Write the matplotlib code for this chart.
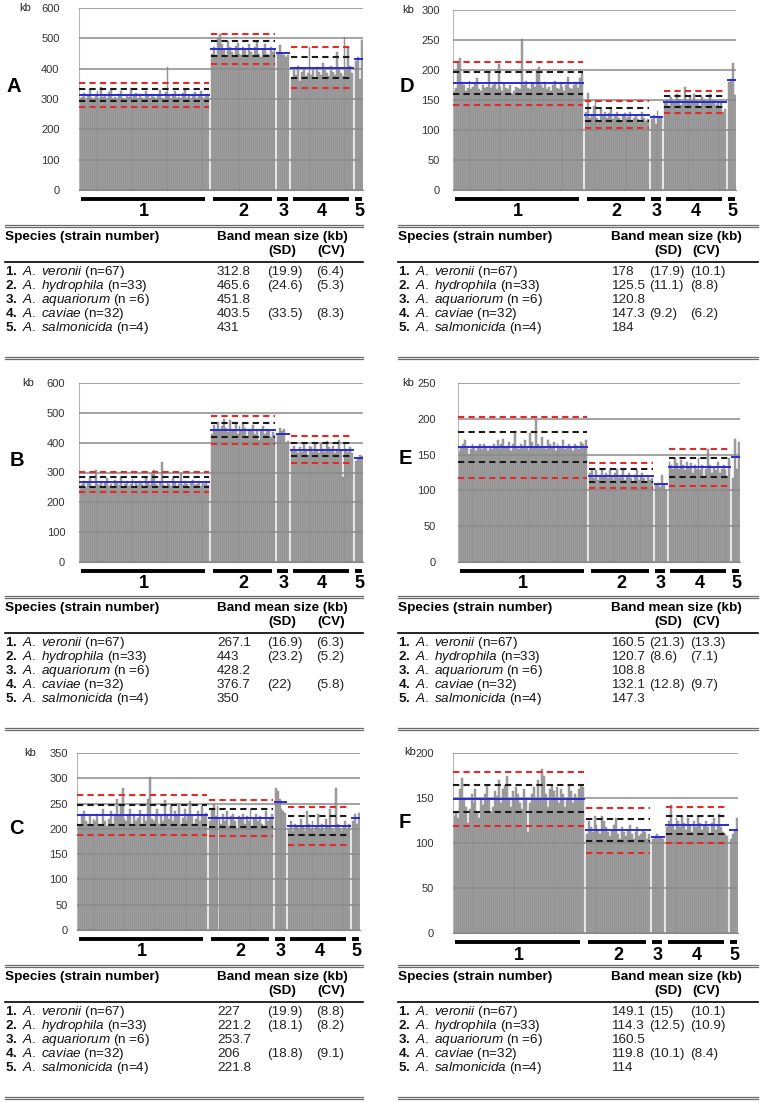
import numpy as np
import matplotlib.pyplot as plt
from matplotlib.lines import Line2D
from matplotlib.transforms import blended_transform_factory

plt.rcParams['font.family'] = ['Liberation Sans', 'DejaVu Sans']
plt.rcParams['mathtext.fontset'] = 'custom'
plt.rcParams['mathtext.rm'] = 'Liberation Sans'
plt.rcParams['mathtext.it'] = 'Liberation Sans:italic'
plt.rcParams['mathtext.bf'] = 'Liberation Sans:bold'

group_names = ['1', '2', '3', '4', '5']
species = ['A. veronii', 'A. hydrophila', 'A. aquariorum', 'A. caviae', 'A. salmonicida']
strains = ['(n=67)', '(n=33)', '(n =6)', '(n=32)', '(n=4)']

# ---- panel A : band sizes (kb) per strain
A1 = [300, 305, 320, 298, 310, 332, 302, 296, 318, 325,
      300, 340, 306, 312, 298, 322, 330, 300, 308, 296,
      315, 328, 302, 300, 312, 305, 336, 298, 310, 320,
      300, 316, 304, 298, 326, 310, 300, 318, 306, 300,
      312, 330, 304, 298, 322, 405, 310, 300, 316, 326,
      302, 308, 300, 320, 334, 304, 310, 298, 316, 322,
      300, 312, 328, 306, 300, 314, 318]
A2 = [450, 470, 445, 500, 515, 480, 460, 445, 490, 470,
      455, 440, 475, 485, 450, 445, 470, 460, 440, 480,
      455, 445, 470, 490, 450, 440, 465, 480, 450, 445,
      470, 455, 460]
A3 = [450, 478, 452, 446, 440, 445]
A4 = [370, 395, 380, 410, 360, 390, 400, 375, 385, 470,
      380, 395, 370, 405, 390, 380, 420, 395, 385, 375,
      410, 390, 380, 455, 400, 385, 375, 505, 395, 470,
      410, 385]
A5 = [425, 440, 365, 495]
mean_A = [312.8, 465.6, 451.8, 403.5, 431]
sd_A = [19.9, 24.6, None, 33.5, None]
cv_A = [6.4, 5.3, None, 8.3, None]

# ---- panel B
B1 = [255, 260, 270, 250, 265, 280, 255, 248, 310, 262,
      258, 270, 252, 265, 280, 255, 262, 250, 275, 268,
      258, 285, 252, 260, 270, 256, 262, 278, 250, 265,
      258, 270, 262, 252, 280, 265, 258, 300, 310, 262,
      255, 268, 335, 258, 250, 272, 262, 256, 280, 265,
      252, 260, 298, 258, 270, 262, 250, 268, 275, 258,
      262, 270, 255, 265, 260, 272, 258]
B2 = [430, 460, 445, 470, 440, 455, 480, 450, 435, 475,
      445, 440, 470, 430, 455, 440, 465, 450, 420, 445,
      440, 460, 430, 445, 410, 440, 455, 430, 445, 440,
      420, 435, 425]
B3 = [428, 450, 440, 445, 400, 405]
B4 = [380, 390, 375, 365, 385, 370, 395, 380, 360, 390,
      385, 370, 400, 375, 365, 395, 380, 370, 405, 385,
      375, 390, 365, 380, 410, 375, 285, 395, 380, 370,
      385, 365]
B5 = [340, 345, 360, 355]
mean_B = [267.1, 443, 428.2, 376.7, 350]
sd_B = [16.9, 23.2, None, 22, None]
cv_B = [6.3, 5.2, None, 5.8, None]

# ---- panel C
C1 = [210, 205, 230, 235, 215, 210, 225, 205, 220, 215,
      230, 210, 208, 240, 215, 205, 220, 235, 210, 230,
      260, 225, 250, 280, 220, 215, 225, 240, 210, 230,
      215, 222, 238, 210, 225, 215, 260, 302, 220, 215,
      230, 240, 210, 225, 215, 258, 230, 220, 245, 215,
      235, 228, 250, 210, 222, 240, 215, 230, 255, 225,
      210, 220, 235, 215, 245, 228, 232]
C2 = [215, 240, 250, 225, 245, 220, 210, 230, 215, 235,
      205, 225, 230, 215, 200, 225, 220, 230, 210, 225,
      215, 240, 205, 220, 230, 215, 225, 210, 205, 235,
      215, 220, 230]
C3 = [280, 275, 260, 240, 235, 232]
C4 = [200, 215, 195, 210, 205, 198, 220, 205, 195, 235,
      210, 200, 215, 195, 205, 230, 200, 210, 195, 220,
      205, 240, 200, 195, 280, 210, 200, 195, 205, 215,
      200, 210]
C5 = [215, 230, 210, 232]
mean_C = [227, 221.2, 253.7, 206, 221.8]
sd_C = [19.9, 18.1, None, 18.8, None]
cv_C = [8.8, 8.2, None, 9.1, None]

# ---- panel D
D1 = [165, 170, 215, 220, 180, 175, 165, 170, 182, 168,
      172, 178, 186, 168, 165, 175, 170, 172, 198, 170,
      175, 180, 168, 210, 172, 165, 178, 170, 168, 175,
      160, 165, 172, 170, 168, 252, 175, 182, 170, 168,
      180, 178, 172, 200, 205, 175, 170, 180, 168, 172,
      165, 175, 182, 170, 168, 180, 172, 165, 175, 188,
      170, 168, 175, 180, 170, 186, 195]
D2 = [130, 162, 120, 125, 140, 150, 120, 115, 135, 125,
      130, 120, 128, 135, 118, 125, 130, 120, 115, 125,
      128, 118, 122, 130, 115, 120, 125, 118, 112, 130,
      120, 115, 118]
D3 = [118, 125, 110, 132, 120, 120]
D4 = [145, 150, 140, 155, 148, 145, 160, 150, 142, 148,
      172, 150, 145, 155, 148, 160, 150, 145, 140, 155,
      150, 145, 148, 160, 145, 150, 142, 148, 140, 145,
      130, 135]
D5 = [180, 185, 212, 159]
mean_D = [178, 125.5, 120.8, 147.3, 184]
sd_D = [17.9, 11.1, None, 9.2, None]
cv_D = [10.1, 8.8, None, 6.2, None]

# ---- panel E
E1 = [155, 160, 165, 170, 160, 150, 158, 165, 160, 155,
      162, 165, 158, 165, 160, 155, 162, 158, 165, 160,
      170, 158, 165, 172, 160, 162, 168, 155, 165, 183,
      160, 158, 165, 162, 170, 160, 155, 180, 168, 160,
      198, 165, 160, 175, 162, 158, 170, 165, 160, 168,
      155, 165, 162, 160, 170, 158, 162, 165, 160, 155,
      165, 162, 158, 168, 165, 160, 170]
E2 = [125, 130, 118, 128, 115, 122, 130, 120, 125, 118,
      128, 120, 115, 125, 130, 118, 122, 128, 115, 120,
      125, 118, 110, 122, 128, 115, 120, 125, 118, 112,
      120, 115, 118]
E3 = [108, 110, 105, 122, 108, 100]
E4 = [140, 135, 130, 145, 138, 130, 142, 135, 128, 140,
      132, 138, 125, 135, 130, 145, 128, 135, 120, 130,
      158, 135, 125, 132, 128, 140, 125, 130, 135, 128,
      120, 145]
E5 = [118, 172, 130, 168]
mean_E = [160.5, 120.7, 108.8, 132.1, 147.3]
sd_E = [21.3, 8.6, None, 12.8, None]
cv_E = [13.3, 7.1, None, 9.7, None]

# ---- panel F
F1 = [130, 135, 128, 160, 172, 150, 140, 122, 138, 155,
      145, 160, 135, 128, 150, 142, 155, 165, 148, 135,
      140, 158, 152, 170, 145, 160, 165, 175, 150, 140,
      158, 148, 162, 155, 145, 138, 160, 150, 112, 145,
      155, 162, 148, 170, 150, 182, 175, 155, 140, 160,
      165, 158, 150, 162, 145, 160, 155, 140, 150, 165,
      158, 145, 155, 150, 160, 165, 162]
F2 = [110, 125, 118, 112, 130, 120, 115, 110, 130, 125,
      118, 112, 108, 115, 120, 128, 110, 105, 118, 112,
      108, 115, 120, 110, 105, 112, 118, 108, 110, 115,
      112, 105, 110]
F3 = [105, 108, 110, 107, 106, 104]
F4 = [118, 125, 142, 120, 115, 128, 125, 118, 130, 122,
      115, 128, 120, 112, 125, 118, 130, 122, 115, 120,
      125, 118, 110, 122, 128, 115, 120, 132, 118, 112,
      110, 108]
F5 = [105, 110, 113, 128]
mean_F = [149.1, 114.3, 160.5, 119.8, 114]
sd_F = [15, 12.5, None, 10.1, None]
cv_F = [10.1, 10.9, None, 8.4, None]

W, H = 765, 1103
fig = plt.figure(figsize=(W / 100, H / 100), dpi=100)
TFS = 9.7  # table font size


def fx(x):
    return x / W


def fy(y):
    return 1 - y / H


def hline(x0, x1, y, **kw):
    fig.add_artist(Line2D([fx(x0), fx(x1)], [fy(y), fy(y)], **kw))


def chart(letter, groups, means, sds, ymax, step, box, pad, kb_xy, let_xy):
    l, r, t, b = box
    ax = fig.add_axes([fx(l), fy(b), (r - l) / W, (b - t) / H])
    starts = []
    pos = 0
    for g in groups:
        starts.append(pos)
        pos += len(g) + 1
    for g, s in zip(groups, starts):
        ax.bar(np.arange(s, s + len(g)), g, width=1.0, color='#a2a2a2',
               edgecolor='#858585', linewidth=0.3, zorder=1)
    ax.set_xlim(-0.5, pos - 1.5)
    ax.set_ylim(0, ymax)
    ax.set_yticks(np.arange(0, ymax + 1, step))
    ax.set_xticks([])
    ax.grid(axis='y', color='#8a8a8a', lw=1.1)
    ax.set_axisbelow(False)
    for sp in ('top', 'right'):
        ax.spines[sp].set_visible(False)
    ax.spines['left'].set_color('#b8b8b8')
    ax.spines['bottom'].set_color('#8a8a8a')
    ax.tick_params(axis='y', length=0, pad=pad, labelsize=8, labelcolor='#333333')

    hpx = b - t
    trans = blended_transform_factory(ax.transData, ax.transAxes)
    for i, (g, s) in enumerate(zip(groups, starts)):
        n = len(g)
        x0, x1 = s - 0.5, s + n - 0.5
        if sds[i] is None:
            m = np.mean(g)
        else:
            m = means[i]
            for k, c in ((1, '#1a1a1a'), (2, '#e22a2a')):
                for sgn in (-1, 1):
                    ax.plot([x0, x1], [m + sgn * k * sds[i]] * 2, color=c, lw=1.5,
                            ls=(0, (3, 2)), zorder=3)
        ax.plot([x0, x1], [m, m], color='#2a2ad8', lw=1.4, zorder=4)
        if n > 10:
            u0, u1 = s + 0.5, s + n - 2.5
        else:
            u0, u1 = s - 0.5, s + n - 1.2
        ax.plot([u0, u1], [-9 / hpx] * 2, transform=trans, clip_on=False,
                color='black', lw=2.8, solid_capstyle='butt')
        ax.text(s + (n - 1) / 2, -22 / hpx, group_names[i], transform=trans,
                ha='center', va='center', fontsize=13, fontweight='bold')
    fig.text(fx(kb_xy[0]), fy(kb_xy[1]), 'kb', ha='center', va='center',
             fontsize=8, color='#222222')
    fig.text(fx(let_xy[0]), fy(let_xy[1]), letter, ha='center', va='center',
             fontsize=14.5, fontweight='bold')


def table(means, sds, cvs, cols, yoff):
    xt, xv, xsd, xcv, xsdh, xcvh, xr = cols
    for y in (225, 357):
        hline(xt, xr, yoff + y, color='#6a6a6a', lw=0.9)
        hline(xt, xr, yoff + y + 2, color='#6a6a6a', lw=0.9)
    hline(xt, xr, yoff + 262, color='black', lw=1.2)
    fig.text(fx(xt), fy(yoff + 237), 'Species (strain number)', fontsize=TFS,
             fontweight='bold', va='center')
    fig.text(fx(xv), fy(yoff + 237), 'Band mean size (kb)', fontsize=TFS,
             fontweight='bold', va='center')
    fig.text(fx(xsdh), fy(yoff + 251), '(SD)', fontsize=TFS, fontweight='bold', va='center')
    fig.text(fx(xcvh), fy(yoff + 251), '(CV)', fontsize=TFS, fontweight='bold', va='center')
    for i, y in enumerate([272, 286, 300, 314, 328]):
        name = species[i].replace(' ', r'\ ')
        lab = r'$\mathbf{%d.}$ $\mathit{%s}$ %s' % (i + 1, name, strains[i])
        fig.text(fx(xt), fy(yoff + y), lab, fontsize=TFS, va='center', color='#111111')
        fig.text(fx(xv), fy(yoff + y), f'{means[i]:g}', fontsize=TFS, va='center',
                 color='#222222')
        if sds[i] is not None:
            fig.text(fx(xsd), fy(yoff + y), f'({sds[i]:g})', fontsize=TFS, va='center',
                     color='#222222')
            fig.text(fx(xcv), fy(yoff + y), f'({cvs[i]:g})', fontsize=TFS, va='center',
                     color='#222222')


left_cols = (5, 217, 267, 316, 268, 317, 363)
right_cols = (398, 611, 649, 690, 654, 692, 758)

chart('A', [A1, A2, A3, A4, A5], mean_A, sd_A, 600, 100, (79, 363, 8, 190), 14, (25, 8), (14, 87))
chart('B', [B1, B2, B3, B4, B5], mean_B, sd_B, 600, 100, (79, 363, 383, 562), 10, (28, 383), (17, 460))
chart('C', [C1, C2, C3, C4, C5], mean_C, sd_C, 350, 50, (77, 360, 753, 930), 6.5, (30, 753), (16, 828))
chart('D', [D1, D2, D3, D4, D5], mean_D, sd_D, 300, 50, (453, 736, 10, 190), 9.4, (408, 10), (407, 87))
chart('E', [E1, E2, E3, E4, E5], mean_E, sd_E, 250, 50, (458, 740, 383, 562), 16, (408, 383), (405, 458))
chart('F', [F1, F2, F3, F4, F5], mean_F, sd_F, 200, 50, (453, 738, 753, 933), 14, (410, 752), (405, 823))

table(mean_A, sd_A, cv_A, left_cols, 0)
table(mean_B, sd_B, cv_B, left_cols, 371)
table(mean_C, sd_C, cv_C, left_cols, 740)
table(mean_D, sd_D, cv_D, right_cols, 0)
table(mean_E, sd_E, cv_E, right_cols, 371)
table(mean_F, sd_F, cv_F, right_cols, 740)

fig.savefig('out.png', dpi=100, facecolor='white')
